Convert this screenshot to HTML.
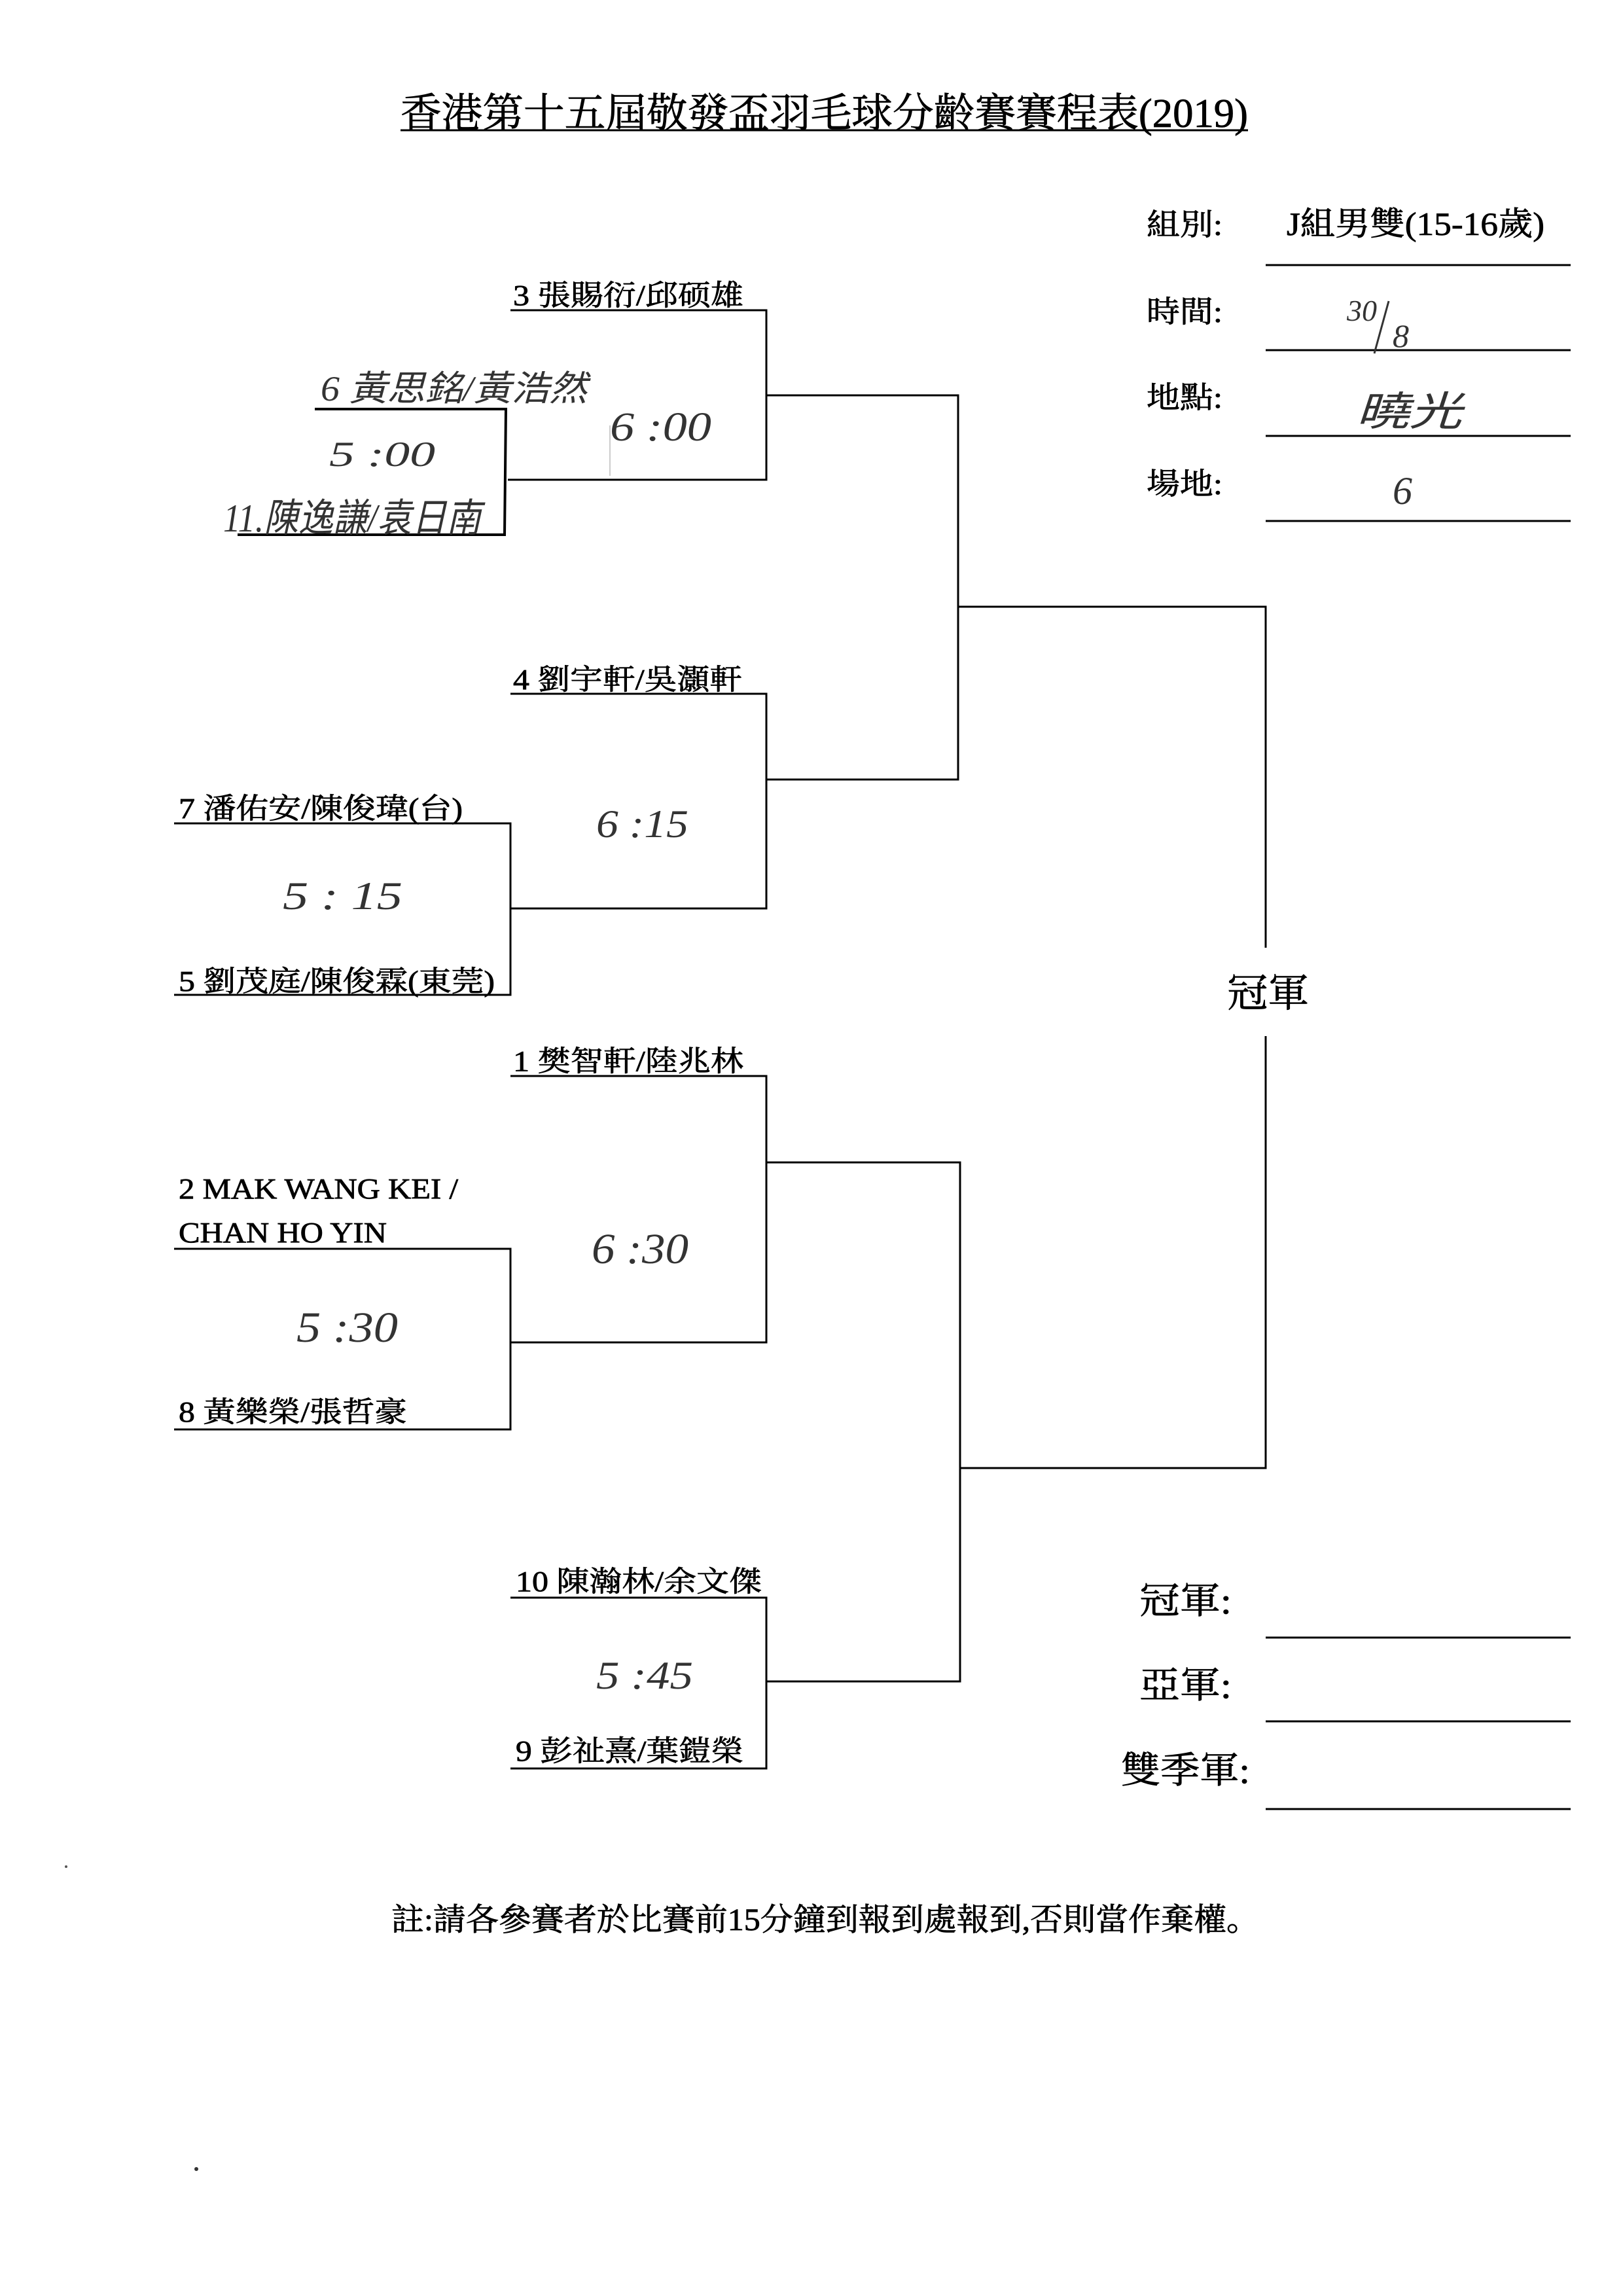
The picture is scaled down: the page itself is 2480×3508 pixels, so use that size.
<!DOCTYPE html>
<html><head><meta charset="utf-8"><style>
html,body{margin:0;padding:0;background:#fff}
svg{display:block}
.p{font-family:"Liberation Serif","Noto Serif CJK SC","Noto Sans CJK TC",serif;fill:#000;stroke:#000;stroke-width:0.8}
.h{font-family:"Liberation Serif","WenQuanYi Zen Hei",serif;font-style:italic;fill:#333}
</style></head><body>
<svg width="2480" height="3508" viewBox="0 0 2480 3508" xmlns="http://www.w3.org/2000/svg">
<g class="p">
<text x="612" y="194" font-size="62" textLength="1295" lengthAdjust="spacingAndGlyphs">香港第十五屆敬發盃羽毛球分齡賽賽程表(2019)</text>
<text x="1752" y="359" font-size="46" textLength="116" lengthAdjust="spacingAndGlyphs">組別:</text>
<text x="1966" y="359" font-size="50" textLength="394" lengthAdjust="spacingAndGlyphs">J組男雙(15-16歲)</text>
<text x="1752" y="492" font-size="46" textLength="116" lengthAdjust="spacingAndGlyphs">時間:</text>
<text x="1752" y="623" font-size="46" textLength="116" lengthAdjust="spacingAndGlyphs">地點:</text>
<text x="1752" y="755" font-size="46" textLength="116" lengthAdjust="spacingAndGlyphs">場地:</text>

<text x="784" y="466" font-size="44" textLength="352" lengthAdjust="spacingAndGlyphs">3 張賜衍/邱硕雄</text>
<text x="784" y="1053" font-size="44" textLength="350" lengthAdjust="spacingAndGlyphs">4 劉宇軒/吳灝軒</text>
<text x="273" y="1250" font-size="44" textLength="434" lengthAdjust="spacingAndGlyphs">7 潘佑安/陳俊瑋(台)</text>
<text x="273" y="1514" font-size="44" textLength="483" lengthAdjust="spacingAndGlyphs">5 劉茂庭/陳俊霖(東莞)</text>
<text x="784" y="1636" font-size="44" textLength="352" lengthAdjust="spacingAndGlyphs">1 樊智軒/陸兆林</text>
<text x="273" y="1831" font-size="44" textLength="427" lengthAdjust="spacingAndGlyphs">2 MAK WANG KEI /</text>
<text x="273" y="1898" font-size="44" textLength="318" lengthAdjust="spacingAndGlyphs">CHAN HO YIN</text>
<text x="273" y="2172" font-size="44" textLength="349" lengthAdjust="spacingAndGlyphs">8 黃樂榮/張哲豪</text>
<text x="788" y="2431" font-size="44" textLength="376" lengthAdjust="spacingAndGlyphs">10 陳瀚林/余文傑</text>
<text x="788" y="2690" font-size="44" textLength="348" lengthAdjust="spacingAndGlyphs">9 彭祉熹/葉鎧榮</text>

<text x="1875" y="1538" font-size="60" textLength="125" lengthAdjust="spacingAndGlyphs">冠軍</text>
<text x="1741" y="2465" font-size="56" textLength="141" lengthAdjust="spacingAndGlyphs">冠軍:</text>
<text x="1741" y="2594" font-size="56" textLength="141" lengthAdjust="spacingAndGlyphs">亞軍:</text>
<text x="1713" y="2724" font-size="56" textLength="197" lengthAdjust="spacingAndGlyphs">雙季軍:</text>
<text x="598" y="2949" font-size="48" textLength="1326" lengthAdjust="spacingAndGlyphs">註:請各參賽者於比賽前15分鐘到報到處報到,否則當作棄權。</text>
</g>

<g stroke="#000" stroke-width="3" fill="none">
<line x1="612" y1="199" x2="1907" y2="199" stroke-width="3"/>
<line x1="1934" y1="405" x2="2400" y2="405"/>
<line x1="1934" y1="535" x2="2400" y2="535"/>
<line x1="1934" y1="666" x2="2400" y2="666"/>
<line x1="1934" y1="796" x2="2400" y2="796"/>
<line x1="1934" y1="2502" x2="2400" y2="2502"/>
<line x1="1934" y1="2630" x2="2400" y2="2630"/>
<line x1="1934" y1="2764" x2="2400" y2="2764"/>

<polyline points="780,474 1171,474 1171,733 776,733"/>
<polyline points="481,625 773,625 771,817 363,817" stroke-width="4"/>
<polyline points="780,1060 1171,1060 1171,1388 780,1388"/>
<polyline points="266,1258 780,1258 780,1520 266,1520"/>
<polyline points="780,1644 1171,1644 1171,2051 780,2051"/>
<polyline points="266,1908 780,1908 780,2184 266,2184"/>
<polyline points="780,2441 1171,2441 1171,2702 780,2702"/>
<polyline points="1171,604 1464,604 1464,1191 1171,1191"/>
<polyline points="1171,1776 1467,1776 1467,2569 1171,2569"/>
<polyline points="1464,927 1934,927 1934,1448"/>
<polyline points="1934,1583 1934,2243 1467,2243"/>
<line x1="932" y1="727" x2="932" y2="650" stroke-width="1" stroke="#999"/>
</g>

<g class="h">
<text x="2058" y="490" font-size="46">30</text>
<line x1="2122" y1="460" x2="2100" y2="540" stroke="#333" stroke-width="3"/>
<text x="2128" y="530" font-size="50">8</text>
<text x="2072" y="650" font-size="62" textLength="162" lengthAdjust="spacingAndGlyphs">曉光</text>
<text x="2128" y="770" font-size="60">6</text>
<text x="490" y="612" font-size="54" textLength="407" lengthAdjust="spacingAndGlyphs">6 黃思銘/黃浩然</text>
<text x="341" y="812" font-size="60" textLength="394" lengthAdjust="spacingAndGlyphs">11.陳逸謙/袁日南</text>
<text x="503" y="712" font-size="54" textLength="162" lengthAdjust="spacingAndGlyphs">5 :00</text>
<text x="932" y="673" font-size="62" textLength="155" lengthAdjust="spacingAndGlyphs">6 :00</text>
<text x="911" y="1279" font-size="60" textLength="141" lengthAdjust="spacingAndGlyphs">6 :15</text>
<text x="432" y="1389" font-size="60" textLength="183" lengthAdjust="spacingAndGlyphs">5 : 15</text>
<text x="904" y="1930" font-size="66" textLength="148" lengthAdjust="spacingAndGlyphs">6 :30</text>
<text x="453" y="2050" font-size="66" textLength="155" lengthAdjust="spacingAndGlyphs">5 :30</text>
<text x="911" y="2580" font-size="60" textLength="148" lengthAdjust="spacingAndGlyphs">5 :45</text>
</g>
<circle cx="101" cy="2852" r="2" fill="#555"/>
<circle cx="300" cy="3314" r="3" fill="#333"/>
</svg>
</body></html>
